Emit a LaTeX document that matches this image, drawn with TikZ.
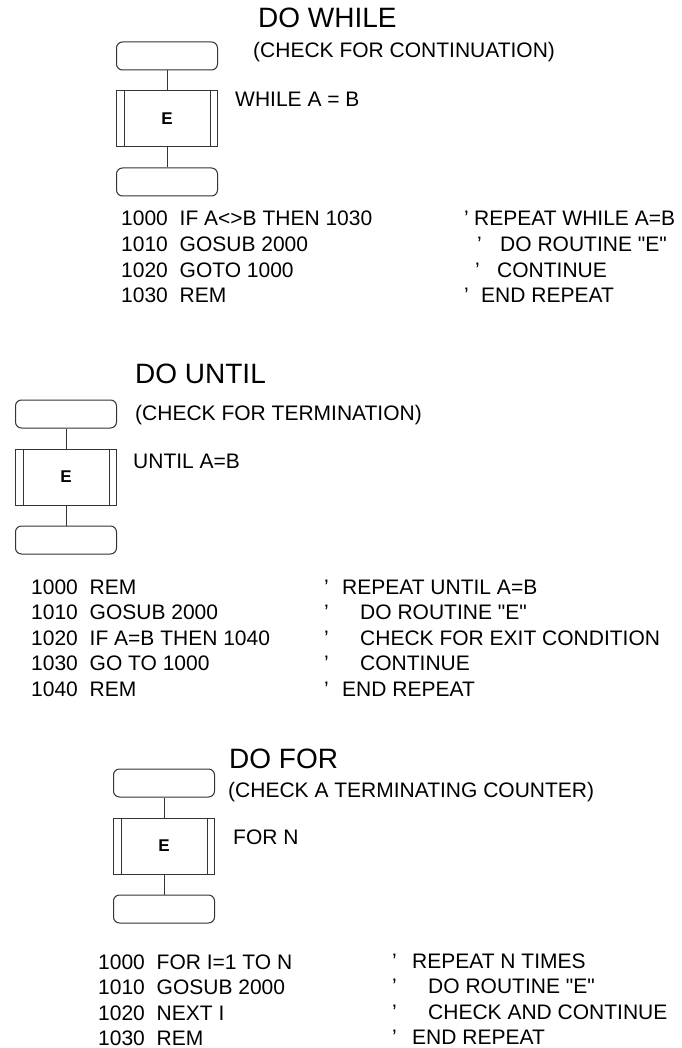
\documentclass[tikz,border=0pt]{standalone}
\usepackage{fontspec}
\setmainfont{Liberation Sans}
\usetikzlibrary{positioning}
\definecolor{FlowLine}{HTML}{333333}
\newcommand{\basicno}[1]{\makebox[58.5pt][l]{#1}}
\newcommand{\cmt}[2]{\makebox[#1][l]{’}#2}
\newcommand{\qE}{\textquotedbl E\textquotedbl}
\tikzset{
  termbox/.style={draw=FlowLine, line width=1pt, rounded corners=6pt, minimum width=101pt, minimum height=28pt, inner sep=0pt},
  procbox/.style={draw=FlowLine, line width=1pt, minimum width=101pt, minimum height=56pt, inner sep=0pt, font=\fontsize{17}{19}\selectfont\bfseries},
  bar/.style={draw=FlowLine, line width=1pt},
  link/.style={draw=FlowLine, line width=1pt},
  heading/.style={anchor=base west, inner sep=0pt, font=\fontsize{28}{32}\selectfont},
  txt/.style={anchor=base west, inner sep=0pt, font=\fontsize{21}{24}\selectfont}
}

\begin{document}
\begin{tikzpicture}[x=1pt, y=-1pt, node distance=20pt]
\useasboundingbox (0,0) rectangle (681,1048);

% do while
\node[heading] (whiletitle) at (258,28) {DO WHILE};
\node[txt] (whilenote) at (253,58) {(CHECK FOR CONTINUATION)};
\node[termbox] (whiletop) at (167,56) {};
\node[procbox, below=of whiletop] (whilebody) {E};
\node[termbox, below=of whilebody] (whilebot) {};
\draw[bar] ([xshift=8pt]whilebody.north west) -- ([xshift=8pt]whilebody.south west);
\draw[bar] ([xshift=-8pt]whilebody.north east) -- ([xshift=-8pt]whilebody.south east);
\draw[link] (whiletop) -- (whilebody);
\draw[link] (whilebody) -- (whilebot);
\node[txt] (whilecond) at (235,107) {WHILE A = B};

\node[txt] (wcode1) at (121,226) {\basicno{1000}IF A<>B THEN 1030};
\node[txt] (wcode2) at (121,251.5) {\basicno{1010}GOSUB 2000};
\node[txt] (wcode3) at (121,277) {\basicno{1020}GOTO 1000};
\node[txt] (wcode4) at (121,302.5) {\basicno{1030}REM};
\node[txt] (wrem1) at (464,226) {\cmt{10pt}{REPEAT WHILE A=B}};
\node[txt] (wrem2) at (477,251.5) {\cmt{23pt}{DO ROUTINE \qE}};
\node[txt] (wrem3) at (475,277) {\cmt{22pt}{CONTINUE}};
\node[txt] (wrem4) at (464,302.5) {\cmt{17pt}{END REPEAT}};

% do until
\node[heading] (untiltitle) at (135,383) {DO UNTIL};
\node[txt] (untilnote) at (135,420) {(CHECK FOR TERMINATION)};
\node[termbox] (untiltop) at (66,414) {};
\node[procbox, below=of untiltop] (untilbody) {E};
\node[termbox, below=of untilbody] (untilbot) {};
\draw[bar] ([xshift=8pt]untilbody.north west) -- ([xshift=8pt]untilbody.south west);
\draw[bar] ([xshift=-8pt]untilbody.north east) -- ([xshift=-8pt]untilbody.south east);
\draw[link] (untiltop) -- (untilbody);
\draw[link] (untilbody) -- (untilbot);
\node[txt] (untilcond) at (133,468) {UNTIL A=B};

\node[txt] (ucode1) at (31,594) {\basicno{1000}REM};
\node[txt] (ucode2) at (31,619.5) {\basicno{1010}GOSUB 2000};
\node[txt] (ucode3) at (31,645) {\basicno{1020}IF A=B THEN 1040};
\node[txt] (ucode4) at (31,670.5) {\basicno{1030}GO TO 1000};
\node[txt] (ucode5) at (31,696) {\basicno{1040}REM};
\node[txt] (urem1) at (324,594) {\cmt{18pt}{REPEAT UNTIL A=B}};
\node[txt] (urem2) at (324,619.5) {\cmt{36pt}{DO ROUTINE \qE}};
\node[txt] (urem3) at (324,645) {\cmt{36pt}{CHECK FOR EXIT CONDITION}};
\node[txt] (urem4) at (324,670.5) {\cmt{36pt}{CONTINUE}};
\node[txt] (urem5) at (324,696) {\cmt{18pt}{END REPEAT}};

% do for
\node[heading] (fortitle) at (229,768) {DO FOR};
\node[txt] (fornote) at (228,797) {(CHECK A TERMINATING COUNTER)};
\node[termbox] (fortop) at (164,783) {};
\node[procbox, below=of fortop] (forbody) {E};
\node[termbox, below=of forbody] (forbot) {};
\draw[bar] ([xshift=8pt]forbody.north west) -- ([xshift=8pt]forbody.south west);
\draw[bar] ([xshift=-8pt]forbody.north east) -- ([xshift=-8pt]forbody.south east);
\draw[link] (fortop) -- (forbody);
\draw[link] (forbody) -- (forbot);
\node[txt] (forcond) at (233,844) {FOR N};

\node[txt] (fcode1) at (98,969) {\basicno{1000}FOR I=1 TO N};
\node[txt] (fcode2) at (98,994.5) {\basicno{1010}GOSUB 2000};
\node[txt] (fcode3) at (98,1020) {\basicno{1020}NEXT I};
\node[txt] (fcode4) at (98,1045) {\basicno{1030}REM};
\node[txt] (frem1) at (392,968) {\cmt{20pt}{REPEAT N TIMES}};
\node[txt] (frem2) at (392,993.5) {\cmt{36pt}{DO ROUTINE \qE}};
\node[txt] (frem3) at (392,1019) {\cmt{36pt}{CHECK AND CONTINUE}};
\node[txt] (frem4) at (392,1044) {\cmt{20pt}{END REPEAT}};
\end{tikzpicture}
\end{document}
